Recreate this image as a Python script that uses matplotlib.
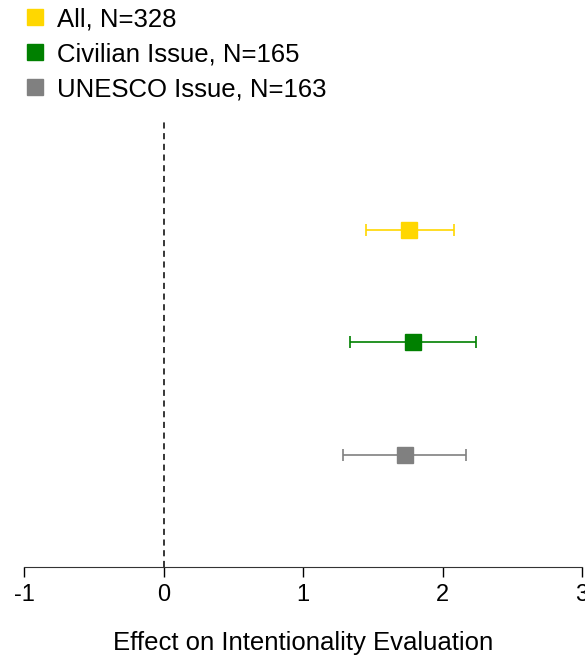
import matplotlib
matplotlib.use("Agg")
import matplotlib.pyplot as plt
from matplotlib.lines import Line2D

plt.rcParams['font.family'] = ['Liberation Sans', 'DejaVu Sans']
plt.rcParams['axes.unicode_minus'] = False

# estimates
groups = ['All, N=328', 'Civilian Issue, N=165', 'UNESCO Issue, N=163']
colors = ['#FFD700', '#008000', '#808080']
effects = [1.76, 1.79, 1.73]
ci_low = [1.45, 1.34, 1.29]
ci_high = [2.08, 2.24, 2.17]
rows = [3, 2, 1]

fig = plt.figure(figsize=(5.85, 6.63), dpi=100)
ax = fig.add_axes([0.041, 0.145, 0.954, 0.677])

# reference line at zero effect
ax.vlines(0, 0, 4, colors='black', linestyles=(0, (4, 3)), linewidth=1.1)

handles = []
for g, c, e, lo, hi, r in zip(groups, colors, effects, ci_low, ci_high, rows):
    ax.errorbar(e, r, xerr=[[e - lo], [hi - e]], fmt='s', color=c,
                markersize=11.5, elinewidth=1.2, capsize=4, capthick=1.2)
    handles.append(Line2D([], [], linestyle='none', marker='s', color=c,
                          markersize=11.5, label=g))

ax.set_xlim(-1, 3)
ax.set_ylim(0, 4)
ax.set_xticks([-1, 0, 1, 2, 3])
ax.set_yticks([])
for s in ['top', 'right', 'left']:
    ax.spines[s].set_visible(False)
ax.spines['bottom'].set_color('#333333')
ax.tick_params(axis='x', length=7, width=1, labelsize=17, pad=5)
ax.set_xlabel('Effect on Intentionality Evaluation', fontsize=18.5, labelpad=18)

fig.legend(handles=handles, loc='upper left', bbox_to_anchor=(0.012, 1.016),
           frameon=False, fontsize=18.5, handletextpad=0.45, labelspacing=0.43,
           handlelength=0.8, borderaxespad=0.3)

plt.savefig('out.png', dpi=100)
